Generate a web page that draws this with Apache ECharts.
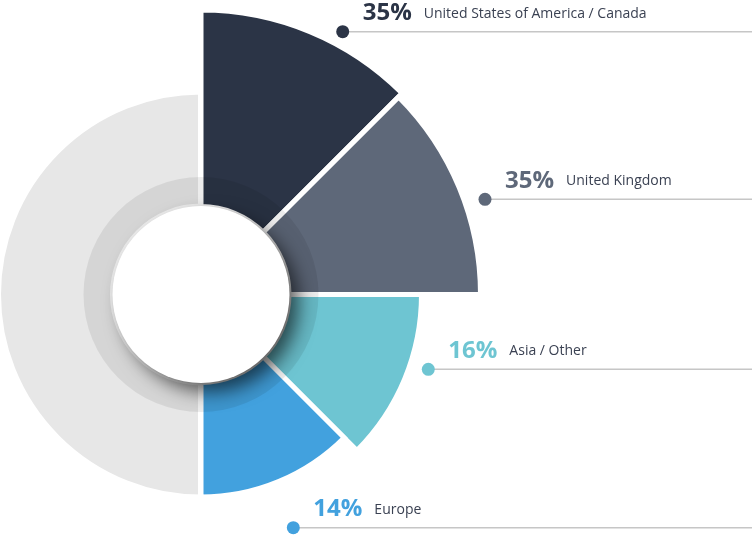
<!DOCTYPE html>
<html>
<head>
<meta charset="utf-8">
<script src="https://cdn.jsdelivr.net/npm/echarts@6/dist/echarts.min.js"></script>
<style>
html,body{margin:0;padding:0;background:#fff;}
#chart{width:752px;height:535px;}
</style>
</head>
<body>
<div id="chart"></div>
<script>
// ---- data ----
const regions = ['United States of America / Canada', 'United Kingdom', 'Asia / Other', 'Europe'];
const shares = [35, 35, 16, 14];
// outer reach of each sector on the radial scale (0-100)
const sectorReach = [98.25, 95.75, 66.25, 57.25];
const shareLabels = shares.map(function (s) { return s + '%'; });

// ---- styles / layout ----
const colors = ['#2b3446', '#5e6879', '#6ec5d2', '#42a1de'];
const center = [201, 294.5];
const calloutDots = [[342.7, 31.7], [485, 199.3], [428.3, 369.3], [293.3, 527.7]];

const angleCats = regions.concat(['r1', 'r2', 'r3', 'r4']);

const graphic = [];
regions.forEach(function (name, i) {
  const d = calloutDots[i];
  graphic.push({
    type: 'line', silent: true, z: 1,
    shape: { x1: d[0], y1: d[1], x2: 752, y2: d[1] },
    style: { stroke: '#c6c6c6', lineWidth: 1.5 }
  });
  graphic.push({
    type: 'circle', silent: true, z: 2,
    shape: { cx: d[0], cy: d[1], r: 6.5 },
    style: { fill: colors[i] }
  });
  graphic.push({
    type: 'text', silent: true, z: 2,
    x: d[0] + 20, y: d[1] - 18.5,
    style: {
      text: '{p|' + shareLabels[i] + '}{n|' + name + '}',
      verticalAlign: 'middle',
      align: 'left',
      rich: {
        p: { fontFamily: 'Open Sans', fontWeight: 'bold', fontSize: 24, fill: colors[i], verticalAlign: 'middle' },
        n: { fontFamily: 'Open Sans', fontSize: 14, fill: '#3a4152', padding: [1, 0, 0, 12], verticalAlign: 'middle' }
      }
    }
  });
});

const chart = echarts.init(document.getElementById('chart'), null, { renderer: 'canvas' });
chart.setOption({
  backgroundColor: '#ffffff',
  animation: false,
  polar: { center: center, radius: [88, 288] },
  angleAxis: { type: 'category', data: angleCats, startAngle: 90, clockwise: true, show: false },
  radiusAxis: { type: 'value', min: 0, max: 100, show: false },
  graphic: graphic,
  series: [
    {
      type: 'pie', silent: true, z: 1,
      center: center, radius: [88, 203],
      startAngle: 270, clockwise: true,
      label: { show: false }, labelLine: { show: false },
      emphasis: { disabled: true },
      data: [
        { value: 1, name: 'back', itemStyle: { color: '#e7e7e7', borderColor: '#ffffff', borderWidth: 6 } },
        { value: 1, name: 'none', itemStyle: { color: 'rgba(0,0,0,0)', borderWidth: 0 } }
      ]
    },
    {
      type: 'bar', coordinateSystem: 'polar', silent: true, z: 2,
      barCategoryGap: '0%',
      itemStyle: { borderColor: '#ffffff', borderWidth: 5 },
      data: sectorReach.map(function (v, i) {
        return { value: v, name: regions[i], itemStyle: { color: colors[i] } };
      })
    },
    {
      type: 'pie', silent: true, z: 3,
      center: center, radius: [88, 117.5],
      label: { show: false }, labelLine: { show: false },
      emphasis: { disabled: true },
      data: [{ value: 1, name: 'ring', itemStyle: { color: 'rgba(0,0,0,0.075)' } }]
    },
    {
      type: 'pie', silent: true, z: 4,
      center: center, radius: [0, 88.5],
      label: { show: false }, labelLine: { show: false },
      emphasis: { disabled: true },
      data: [{
        value: 1, name: 'hole',
        itemStyle: { color: '#ffffff', shadowBlur: 18, shadowColor: 'rgba(0,0,0,0.6)', shadowOffsetX: 9, shadowOffsetY: 9 }
      }]
    }
  ]
});
</script>
</body>
</html>
